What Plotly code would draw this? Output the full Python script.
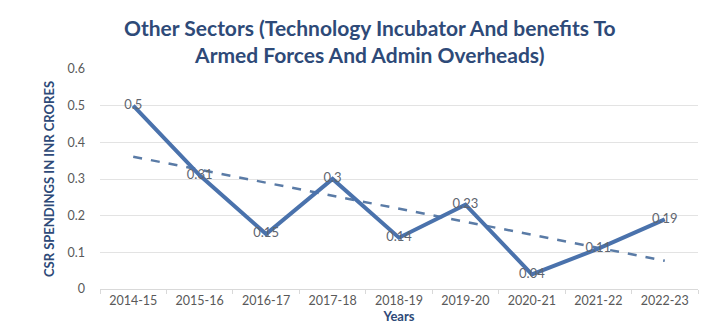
import numpy as np
import plotly.graph_objects as go

years = ["2014-15", "2015-16", "2016-17", "2017-18", "2018-19",
         "2019-20", "2020-21", "2021-22", "2022-23"]
spend = [0.5, 0.31, 0.15, 0.3, 0.14, 0.23, 0.04, 0.11, 0.19]
value_labels = ["0.5", "0.31", "0.15", "0.3", "0.14", "0.23", "0.04", "0.11", "0.19"]

# linear trend fitted over the category index
idx = np.arange(len(spend))
slope, intercept = np.polyfit(idx, spend, 1)
trend = slope * idx + intercept

fig = go.Figure()
fig.add_trace(go.Scatter(
    x=years, y=trend, mode="lines",
    line=dict(color="#5A7BA6", width=2.5, dash="dash"),
    hoverinfo="skip", showlegend=False,
))
fig.add_trace(go.Scatter(
    x=years, y=spend, mode="lines+text",
    line=dict(color="#4A72AC", width=4),
    text=value_labels, textposition="middle center",
    textfont=dict(family="Lato", size=13, color="#5f6670"),
    showlegend=False,
))

# two-line chart heading placed above the plotting area
fig.add_annotation(
    text="Other Sectors (Technology Incubator And benefits To<br>Armed Forces And Admin Overheads)",
    xref="paper", yref="paper", x=0.452, y=1.127,
    xanchor="center", yanchor="middle", showarrow=False,
    font=dict(family="Lato", size=21, color="#2E4A78", weight="bold"),
)

fig.update_layout(
    width=708, height=330,
    margin=dict(l=100, r=10, t=69, b=41),
    paper_bgcolor="white", plot_bgcolor="white",
    xaxis=dict(
        type="category", range=[-0.5, 8.5],
        showgrid=False, showline=True, linecolor="#d9d9d9",
        ticks="outside", ticklen=4, tickcolor="#d9d9d9", tickson="boundaries",
        tickfont=dict(family="Lato", size=12.5, color="#595959"),
        title=dict(text="Years", standoff=1,
                   font=dict(family="Lato", size=13, color="#2E4A78", weight="bold")),
    ),
    yaxis=dict(
        range=[0, 0.6], dtick=0.1, showgrid=True, gridcolor="#e3e3e3",
        zeroline=False, showline=False,
        tickfont=dict(family="Lato", size=12.5, color="#595959"),
        ticklabelstandoff=14,
        title=dict(text="CSR SPENDINGS IN INR CRORES", standoff=9,
                   font=dict(family="Lato", size=13, color="#2E4A78", weight="bold")),
    ),
)

fig.write_html("out.html")
